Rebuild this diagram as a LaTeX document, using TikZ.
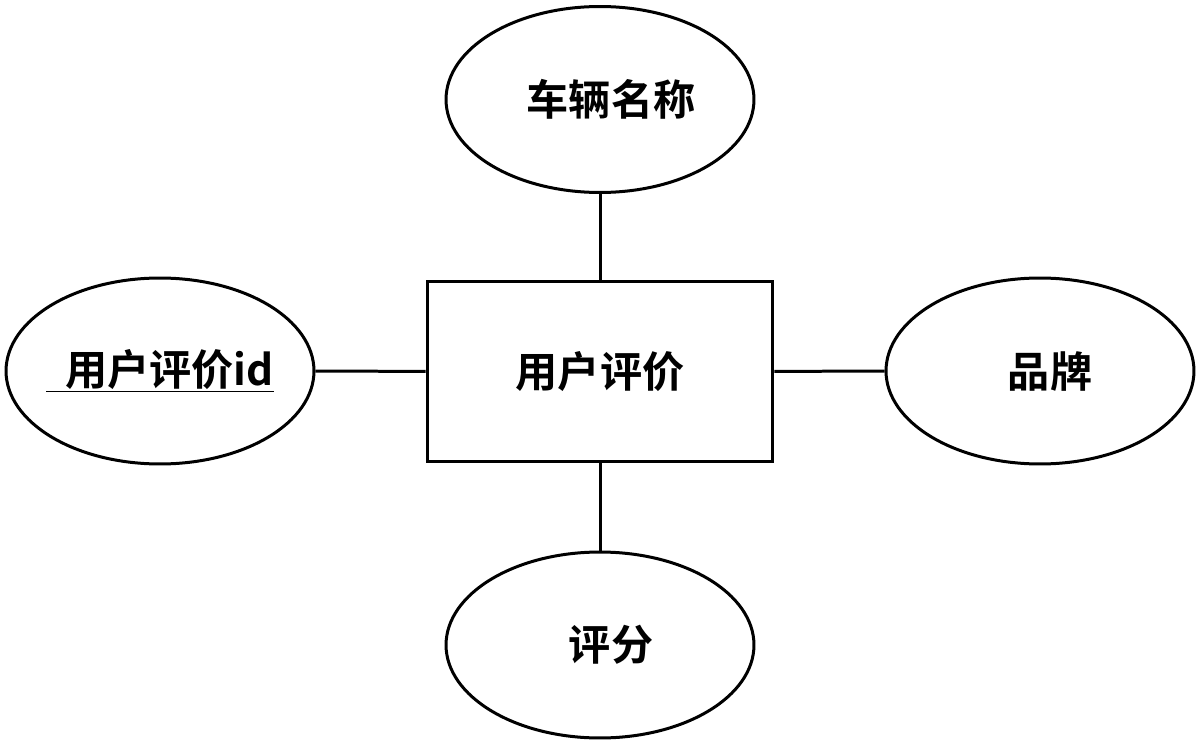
\documentclass[tikz,border=0pt]{standalone}
\usepackage{fontspec}
\setmainfont{Noto Sans CJK SC Bold}
\usepackage{tikz}
\usetikzlibrary{shapes.geometric}
\usetikzlibrary{positioning}

\begin{document}
\begin{tikzpicture}[
x=0.02cm, y=-0.02cm,
Entity/.style={draw=black,line width=0.06cm,minimum width=6.92cm,minimum height=3.62cm,inner sep=0pt},
Attrib/.style={draw=black,ellipse,line width=0.06cm,minimum width=6.16cm,minimum height=3.72cm,inner sep=0pt},
Links/.style={draw=black,line width=0.06cm},
every node/.style={font=\fontsize{24}{28}\selectfont}
]
\useasboundingbox (0,0) rectangle (1200,743);

% entity in the middle
\node[Entity] (review) at (600,371.5) {用户评价};

% attributes around it
\node[Attrib] (car)   at (600,99.5)  {\hspace*{0.44cm}车辆名称};
\node[Attrib] (rid)   at (160,371)   {\makebox[3cm]{\underline{\hspace*{0.38cm}用户评价id}}};
\node[Attrib] (brand) at (1040,371)  {\hspace*{0.4cm}品牌};
\node[Attrib] (score) at (600,645)   {\hspace*{0.44cm}评分};

\draw[Links] (car)--(review);
\draw[Links] (rid)--(review);
\draw[Links] (review)--(brand);
\draw[Links] (review)--(score);

\end{tikzpicture}
\end{document}
